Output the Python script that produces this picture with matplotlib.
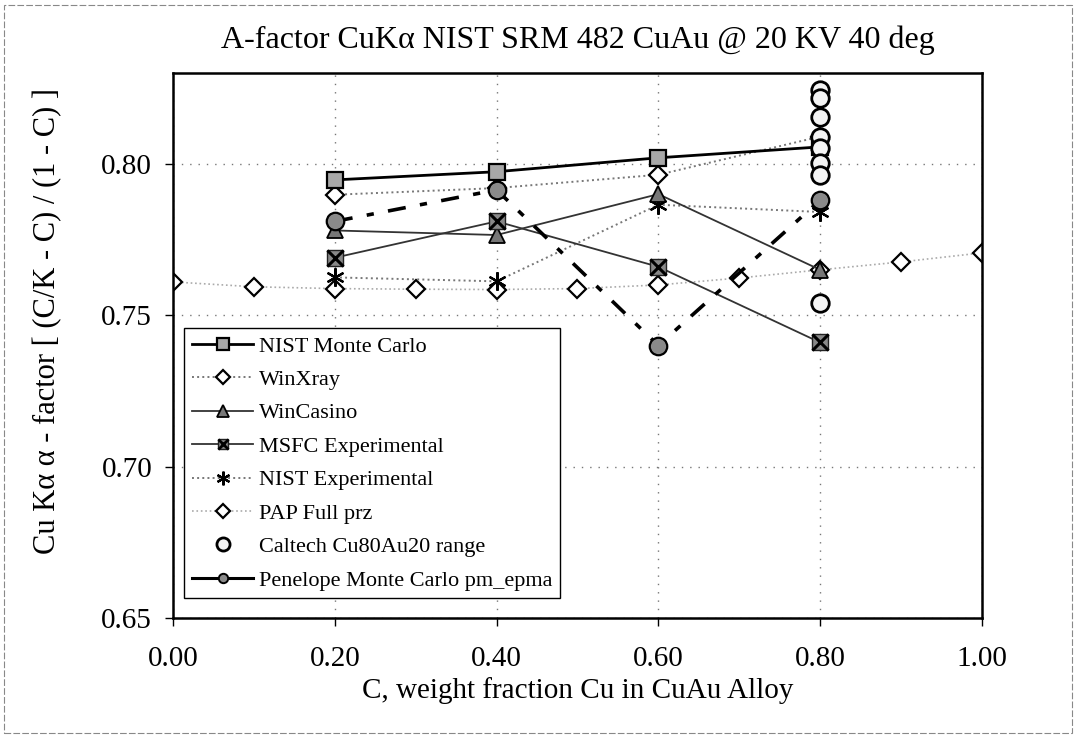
import matplotlib
matplotlib.use("Agg")
import matplotlib.pyplot as plt
from matplotlib.patches import Rectangle
from matplotlib.lines import Line2D
from matplotlib.legend_handler import HandlerTuple

plt.rcParams['font.family'] = ['Liberation Serif', 'DejaVu Serif']

# ---- datos ----
x_main = [0.20, 0.40, 0.60, 0.80]
nist_mc = [0.7947, 0.7974, 0.8020, 0.8056]
winxray = [0.7898, 0.7920, 0.7964, 0.8090]
wincasino = [0.7780, 0.7765, 0.7900, 0.7650]
msfc_exp = [0.7690, 0.7810, 0.7660, 0.7410]
nist_exp = [0.7625, 0.7612, 0.7865, 0.7841]
penelope = [0.7810, 0.7914, 0.7400, 0.7880]

x_pap = [0.0, 0.1, 0.2, 0.3, 0.4, 0.5, 0.6, 0.7, 0.8, 0.9, 1.0]
pap = [0.7610, 0.7594, 0.7588, 0.7586, 0.7585, 0.7588, 0.7600, 0.7623, 0.7650, 0.7676, 0.7706]

x_caltech = [0.80] * 8
caltech = [0.8244, 0.8218, 0.8155, 0.8089, 0.8053, 0.8003, 0.7964, 0.7541]

title = "A-factor CuKα NIST SRM 482 CuAu @ 20 KV 40 deg"
xlabel = "C, weight fraction Cu in CuAu Alloy"
ylabel = "Cu Kα α - factor [ (C/K - C) / (1 - C) ]"

fig = plt.figure(figsize=(10.76, 7.39), dpi=100)
ax = fig.add_axes([0.1608, 0.1637, 0.7518, 0.7375])

# marco exterior del grafico
fig.patches.append(Rectangle((0.004, 0.008), 0.992, 0.985, transform=fig.transFigure,
                             fill=False, edgecolor='#888888', linewidth=0.8,
                             linestyle=(0, (6, 2))))

ms = 12

h_pap, = ax.plot(x_pap, pap, linestyle=':', color='#aaaaaa', linewidth=1.2,
                 marker='D', markersize=ms * 0.8, markerfacecolor='white',
                 markeredgecolor='black', markeredgewidth=1.6, zorder=2)
h_winx, = ax.plot(x_main, winxray, linestyle=':', color='#777777', linewidth=1.4,
                  marker='D', markersize=ms * 0.8, markerfacecolor='white',
                  markeredgecolor='black', markeredgewidth=1.6, zorder=3)
h_nexp, = ax.plot(x_main, nist_exp, linestyle=':', color='#777777', linewidth=1.4,
                  marker=(6, 2, 0), markersize=ms * 1.1, markeredgecolor='black',
                  markeredgewidth=1.6, zorder=3)
h_casino, = ax.plot(x_main, wincasino, linestyle='-', color='#333333', linewidth=1.3,
                    marker='^', markersize=ms, markerfacecolor='#777777',
                    markeredgecolor='black', markeredgewidth=1.3, zorder=4)
ax.plot(x_main, msfc_exp, linestyle='-', color='#333333', linewidth=1.3,
        marker='s', markersize=ms, markerfacecolor='#888888',
        markeredgecolor='#222222', markeredgewidth=1.0, zorder=4)
ax.plot(x_main, msfc_exp, linestyle='none', marker='x', markersize=ms,
        markeredgecolor='black', markeredgewidth=2.2, zorder=5)
h_mc, = ax.plot(x_main, nist_mc, linestyle='-', color='black', linewidth=2.0,
                marker='s', markersize=ms, markerfacecolor='#a8a8a8',
                markeredgecolor='black', markeredgewidth=1.6, zorder=4)
h_cal, = ax.plot(x_caltech, caltech, linestyle='none', marker='o', markersize=ms * 1.05,
                 markerfacecolor='#f4f4f4', markeredgecolor='black', markeredgewidth=2.0,
                 zorder=6)
ax.plot(x_main, penelope, linestyle=(0, (5, 4, 2, 4)), color='black', linewidth=2.6,
        marker='o', markersize=ms * 1.05, markerfacecolor='#8a8a8a',
        markeredgecolor='black', markeredgewidth=1.6, zorder=7)

ax.set_xlim(0.0, 1.0)
ax.set_ylim(0.65, 0.83)
ax.set_xticks([0.0, 0.2, 0.4, 0.6, 0.8, 1.0])
ax.set_yticks([0.65, 0.70, 0.75, 0.80])
ax.set_xticklabels(["0.00", "0.20", "0.40", "0.60", "0.80", "1.00"])
ax.set_yticklabels(["0.65", "0.70", "0.75", "0.80"])
ax.tick_params(axis='both', direction='out', length=6, width=1.0, labelsize=21)
ax.tick_params(axis='x', pad=14)
ax.tick_params(axis='y', pad=9)
ax.grid(True, linestyle=(0, (1, 5)), color='#777777', linewidth=1.0)
for s in ax.spines.values():
    s.set_linewidth(1.8)
    s.set_color('black')

ax.set_title(title, fontsize=23, pad=18)
ax.set_xlabel(xlabel, fontsize=21, labelpad=4)
ax.set_ylabel(ylabel, fontsize=22)
ax.yaxis.set_label_coords(-0.137, 0.545)

# leyenda: Penelope solida en la leyenda
pen_leg = Line2D([], [], linestyle='-', color='black', linewidth=2.2, marker='o',
                 markersize=9, markerfacecolor='#8a8a8a', markeredgecolor='black',
                 markeredgewidth=1.4)
msfc_leg = (Line2D([], [], linestyle='-', color='#333333', linewidth=1.3, marker='s',
                   markersize=9, markerfacecolor='#888888', markeredgecolor='#222222'),
            Line2D([], [], linestyle='none', marker='x', markersize=9,
                   markeredgecolor='black', markeredgewidth=2.0))

handles = [h_mc, h_winx, h_casino, msfc_leg, h_nexp, h_pap, h_cal, pen_leg]
labels = ['NIST Monte Carlo', 'WinXray', 'WinCasino', 'MSFC Experimental',
          'NIST Experimental', 'PAP Full prz', 'Caltech Cu80Au20 range',
          'Penelope Monte Carlo pm_epma']
leg = ax.legend(handles, labels, loc='lower left', bbox_to_anchor=(0.014, 0.036),
                fontsize=16, frameon=True, fancybox=False, framealpha=1,
                edgecolor='black', labelspacing=0.58, handlelength=2.75,
                handletextpad=0.25, borderpad=0.35, borderaxespad=0,
                markerscale=0.75,
                handler_map={tuple: HandlerTuple(ndivide=1, pad=0)})
leg.get_frame().set_linewidth(1.0)
leg.set_zorder(10)

fig.savefig("out.png", dpi=100)
